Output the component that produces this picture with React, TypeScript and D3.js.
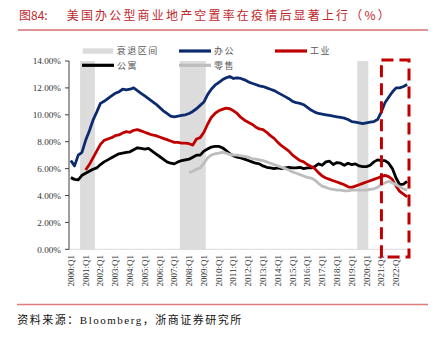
import React from "react";
import * as d3 from "d3";

const years = ["2000","2001","2002","2003","2004","2005","2006","2007","2008","2009","2010","2011","2012","2013","2014","2015","2016","2017","2018","2019","2020","2021","2022"];
const quarters = ["Q1","Q2","Q3","Q4"];
const categories = years.flatMap((y) => quarters.map((q) => `${y}:${q}`));
const tickLabels = years.map((y) => `${y}:Q1`);
const yTicks = [0, 2, 4, 6, 8, 10, 12, 14];

// recession bands (start, end category)
const recessions: [string, string][] = [
  ["2000:Q4", "2001:Q3"],
  ["2007:Q3", "2009:Q1"],
  ["2019:Q3", "2020:Q1"],
];

const office = [
  6.6, 6.2, 7.0, 7.2, 8.1, 8.8, 9.6, 10.2, 10.85, 11.0, 11.2, 11.4, 11.6, 11.7, 11.9, 11.85,
  11.9, 12.0, 11.8, 11.6, 11.4, 11.2, 11.0, 10.8, 10.55, 10.3, 10.1, 9.9, 9.85, 9.9, 9.95, 10.0,
  10.1, 10.25, 10.45, 10.7, 10.95, 11.5, 11.9, 12.2, 12.4, 12.6, 12.75, 12.85, 12.7, 12.75, 12.7, 12.6,
  12.45, 12.35, 12.25, 12.15, 12.1, 12.0, 11.9, 11.8, 11.65, 11.5, 11.35, 11.2, 11.0, 10.9, 10.85, 10.75,
  10.55, 10.35, 10.2, 10.1, 10.05, 10.0, 9.95, 9.9, 9.85, 9.8, 9.75, 9.65, 9.5, 9.45, 9.4, 9.35,
  9.4, 9.45, 9.5, 9.65, 10.2, 10.9, 11.3, 11.7, 12.0, 12.0, 12.1, 12.25,
];

const industrial: (number | null)[] = [
  null, null, null, null, 5.9, 6.3, 6.8, 7.3, 7.8, 8.1, 8.2, 8.3, 8.45, 8.5, 8.65, 8.75,
  8.7, 8.85, 8.9, 8.8, 8.7, 8.6, 8.5, 8.45, 8.35, 8.25, 8.15, 8.05, 7.95, 7.95, 7.9, 7.9,
  7.85, 7.75, 8.2, 8.3, 8.7, 9.3, 9.8, 10.1, 10.3, 10.4, 10.5, 10.45, 10.3, 10.1, 9.8, 9.6,
  9.45, 9.3, 9.1, 8.95, 8.9, 8.7, 8.45, 8.25, 7.95, 7.7, 7.5, 7.3, 7.0, 6.8, 6.6, 6.5,
  6.3, 6.15, 6.0, 5.7, 5.45, 5.3, 5.2, 5.1, 5.0, 4.9, 4.8, 4.65, 4.6, 4.7, 4.8, 4.9,
  5.0, 5.1, 5.2, 5.3, 5.4, 5.5, 5.4, 5.2, 4.7, 4.3, 4.1, 3.9,
];

const apartment = [
  5.33, 5.2, 5.16, 5.5, 5.65, 5.8, 5.95, 6.05, 6.3, 6.5, 6.65, 6.8, 6.95, 7.1, 7.15, 7.2,
  7.25, 7.4, 7.55, 7.5, 7.45, 7.5, 7.3, 7.1, 6.9, 6.7, 6.5, 6.4, 6.35, 6.5, 6.6, 6.65,
  6.7, 6.85, 7.0, 7.0, 7.3, 7.45, 7.6, 7.65, 7.65, 7.55, 7.35, 7.1, 6.95, 6.85, 6.8, 6.7,
  6.6, 6.5, 6.4, 6.35, 6.2, 6.1, 6.05, 6.0, 6.05, 6.0, 6.05, 6.1, 6.05, 6.05, 6.1, 6.0,
  6.05, 6.05, 6.15, 6.35, 6.25, 6.5, 6.55, 6.3, 6.45, 6.4, 6.25, 6.4, 6.3, 6.35, 6.2, 6.15,
  6.15, 6.25, 6.5, 6.65, 6.6, 6.6, 6.4, 6.0, 5.3, 4.8, 4.85, 5.05,
];

const retail: (number | null)[] = [
  null, null, null, null, null, null, null, null, null, null, null, null, null, null, null, null,
  null, null, null, null, null, null, null, null, null, null, null, null, null, null, null, null,
  5.7, 5.8, 5.95, 6.05, 6.4, 6.8, 7.0, 7.1, 7.15, 7.2, 7.15, 7.05, 7.0, 7.0, 6.95, 6.9,
  6.85, 6.75, 6.7, 6.65, 6.6, 6.5, 6.4, 6.3, 6.2, 6.1, 6.0, 5.9, 5.75, 5.65, 5.55, 5.45,
  5.35, 5.3, 5.15, 4.9, 4.7, 4.6, 4.5, 4.45, 4.4, 4.4, 4.35, 4.35, 4.4, 4.4, 4.4, 4.4,
  4.4, 4.45, 4.5, 4.6, 4.8, 4.95, 5.05, 4.95, 4.8, 4.65, 4.5, 4.4,
];

const highlight: [string, string] = ["2021:Q1", "2022:Q4"];

const COL_OFFICE = "#0c2a6e";
const COL_IND = "#c00000";
const COL_APT = "#000000";
const COL_RET = "#bdbdbd";
const COL_REC = "#dcdcdc";
const CJK = "'Noto Sans CJK SC', sans-serif";
const SERIF = "'Liberation Serif', 'Times New Roman', serif";

export default function App() {
  const W = 435, H = 339;
  const x = d3.scaleBand<string>().domain(categories).range([69, 409]).padding(0);
  const bw = x.bandwidth();
  const cx = (c: string) => (x(c) as number) + bw / 2;
  const y = d3.scaleLinear().domain([0, 14]).range([249.3, 61]);

  const mk = (vals: (number | null)[]) =>
    d3
      .line<number | null>()
      .defined((d) => d !== null)
      .x((_, i) => cx(categories[i]))
      .y((d) => y(d as number))(vals) || "";

  const series = [
    { vals: apartment, col: COL_APT },
    { vals: office, col: COL_OFFICE },
    { vals: industrial, col: COL_IND },
    { vals: retail, col: COL_RET },
  ];

  const legendLine = (x1: number, yy: number, col: string, label: string) => (
    <g>
      <line x1={x1} x2={x1 + 32} y1={yy} y2={yy} stroke={col} strokeWidth={3.2} />
      <text x={x1 + 35} y={yy + 3.2} fontSize={9} fill="#595959" fontFamily={CJK} letterSpacing={1.5}>
        {label}
      </text>
    </g>
  );

  return (
    <svg width={W} height={H} style={{ position: "absolute", left: 0, top: 0, background: "#fff" }}>
      {/* title */}
      <text x={19} y={19.5} fontSize={12} fill="#c0282d" fontFamily={CJK}>图84:</text>
      <text x={66.7} y={19.5} fontSize={12} fill="#c0282d" fontFamily={CJK} textLength={323} lengthAdjust="spacing">
        美国办公型商业地产空置率在疫情后显著上行（%）
      </text>
      <line x1={18} x2={428} y1={30} y2={30} stroke="#c0282d" strokeWidth={1} />

      {/* recession bands */}
      {recessions.map(([s, e], k) => (
        <rect key={k} x={x(s)} y={y(14)} width={(x(e) as number) + bw - (x(s) as number)} height={y(0) - y(14)} fill={COL_REC} />
      ))}

      {/* axes */}
      <line x1={69} x2={409} y1={y(0)} y2={y(0)} stroke="#d9d9d9" strokeWidth={1} />
      <line x1={69} x2={69} y1={y(14)} y2={y(0)} stroke="#404040" strokeWidth={1} />
      {yTicks.map((t) => (
        <g key={t}>
          <line x1={65} x2={69} y1={y(t)} y2={y(t)} stroke="#404040" strokeWidth={1} />
          <text x={61} y={y(t) + 3.2} fontSize={9.2} textAnchor="end" fill="#333" fontFamily={SERIF}>
            {t.toFixed(2)}%
          </text>
        </g>
      ))}
      {tickLabels.map((t) => (
        <text key={t} transform={`translate(${cx(t) + 3},255) rotate(-90)`} fontSize={9} textAnchor="end" fill="#333" fontFamily={SERIF}>
          {t}
        </text>
      ))}

      {/* series */}
      {series.map((s, k) => (
        <path key={k} d={mk(s.vals)} fill="none" stroke={s.col} strokeWidth={2.8} strokeLinejoin="round" />
      ))}

      {/* highlight box */}
      <rect
        x={(x(highlight[0]) as number) + 2}
        y={60}
        width={(x(highlight[1]) as number) + bw - (x(highlight[0]) as number) - 2}
        height={197}
        fill="none"
        stroke="#c00000"
        strokeWidth={3}
        strokeDasharray="12 6"
      />

      {/* legend */}
      <rect x={82.7} y={48.3} width={30.5} height={5.5} fill={COL_REC} />
      <text x={116.7} y={54.2} fontSize={9} fill="#595959" fontFamily={CJK} letterSpacing={1.5}>衰退区间</text>
      {legendLine(179, 51, COL_OFFICE, "办公")}
      {legendLine(275, 51, COL_IND, "工业")}
      {legendLine(82, 65.3, COL_APT, "公寓")}
      {legendLine(179, 65.3, COL_RET, "零售")}

      {/* source */}
      <line x1={17} x2={428} y1={304.5} y2={304.5} stroke="#e07b7b" strokeWidth={1.5} />
      <text x={17.3} y={324} fontSize={11} fill="#111" fontFamily={CJK} textLength={224} lengthAdjust="spacing">
        资料来源：<tspan fontFamily={SERIF}>Bloomberg</tspan>，浙商证券研究所
      </text>
    </svg>
  );
}
